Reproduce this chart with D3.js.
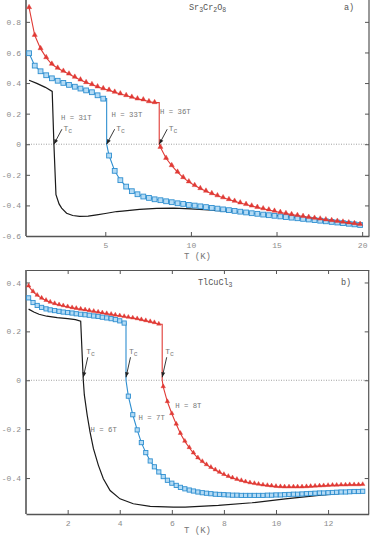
<!DOCTYPE html>
<html><head><meta charset="utf-8">
<script src="https://cdn.jsdelivr.net/npm/d3@7"></script>
<style>html,body{margin:0;padding:0;background:#fff;}svg{display:block;}</style>
</head><body>
<svg id="chart" width="375" height="535"></svg>
<script>
// ---------------- DATA ----------------
// Panel a) Sr3Cr2O8 : temperature grid (K) shared by H = 33T and H = 36T
const tA = [0.55,0.88,1.22,1.55,1.88,2.22,2.55,2.88,3.22,3.55,3.88,4.22,4.55,4.88,5.22,5.55,5.88,6.22,6.55,6.88,7.22,7.55,7.88,8.22,8.55,8.88,9.22,9.55,9.88,10.22,10.55,10.88,11.22,11.55,11.88,12.22,12.55,12.88,13.22,13.55,13.88,14.22,14.55,14.88,15.22,15.55,15.88,16.22,16.55,16.88,17.22,17.55,17.88,18.22,18.55,18.88,19.22,19.55,19.88];
const redA = [0.893,0.712,0.625,0.566,0.523,0.497,0.477,0.459,0.438,0.420,0.403,0.390,0.375,0.363,0.353,0.340,0.329,0.318,0.307,0.296,0.290,0.278,0.272,
  -0.020,-0.092,-0.140,-0.183,-0.218,-0.246,-0.270,-0.290,-0.307,-0.323,-0.337,-0.350,-0.362,-0.373,-0.384,-0.394,-0.404,-0.413,-0.422,-0.430,-0.438,-0.446,-0.453,-0.460,-0.466,-0.472,-0.478,-0.484,-0.489,-0.494,-0.499,-0.504,-0.509,-0.514,-0.519,-0.524];
const blueA = [0.595,0.514,0.477,0.451,0.431,0.415,0.401,0.388,0.376,0.364,0.352,0.340,0.320,0.298,
  -0.074,-0.174,-0.235,-0.277,-0.307,-0.327,-0.342,-0.351,-0.360,-0.366,-0.373,-0.379,-0.386,-0.390,-0.397,-0.401,-0.406,-0.411,-0.416,-0.421,-0.426,-0.431,-0.436,-0.441,-0.446,-0.451,-0.455,-0.460,-0.464,-0.468,-0.472,-0.476,-0.480,-0.484,-0.488,-0.492,-0.496,-0.500,-0.504,-0.508,-0.512,-0.516,-0.520,-0.524,-0.528];
// H = 31T (solid line)
const blackA_T = [0.55,1.0,1.5,1.9,2.0,2.12,2.3,2.45,2.74,3.1,3.5,4.0,4.5,5.0,5.67,6.0,7.0,8.0,9.0,10.0,11.0,12.0,13.0,14.0,15.0,16.0,17.0,18.0,19.0,20.0];
const blackA_M = [0.418,0.398,0.372,0.345,0.0,-0.33,-0.39,-0.418,-0.451,-0.466,-0.472,-0.470,-0.462,-0.453,-0.440,-0.437,-0.426,-0.420,-0.418,-0.423,-0.430,-0.438,-0.446,-0.455,-0.465,-0.476,-0.487,-0.499,-0.512,-0.530];
const tcA = [2.0, 5.08, 8.15];          // critical temperatures: 31T, 33T, 36T
const fieldsA = ["H = 31T", "H = 33T", "H = 36T"];

// Panel b) TlCuCl3 : temperature grid (K)
const tB = [0.5,0.67,0.83,1.0,1.17,1.33,1.5,1.67,1.83,2.0,2.17,2.33,2.5,2.67,2.83,3.0,3.17,3.33,3.5,3.67,3.83,4.0,4.17,4.33,4.5,4.67,4.83,5.0,5.17,5.33,5.5,5.67,5.83,6.0,6.17,6.33,6.5,6.67,6.83,7.0,7.17,7.33,7.5,7.67,7.83,8.0,8.17,8.33,8.5,8.67,8.83,9.0,9.17,9.33,9.5,9.67,9.83,10.0,10.17,10.33,10.5,10.67,10.83,11.0,11.17,11.33,11.5,11.67,11.83,12.0,12.17,12.33,12.5,12.67,12.83,13.0,13.17,13.33];
const redB = [0.385,0.362,0.347,0.335,0.326,0.319,0.313,0.308,0.304,0.300,0.296,0.293,0.290,0.287,0.284,0.281,0.278,0.275,0.272,0.269,0.266,0.263,0.260,0.257,0.254,0.251,0.247,0.243,0.239,0.235,0.229,
  -0.027,-0.088,-0.137,-0.180,-0.218,-0.250,-0.276,-0.298,-0.318,-0.333,-0.346,-0.357,-0.367,-0.377,-0.386,-0.394,-0.400,-0.406,-0.411,-0.416,-0.420,-0.423,-0.426,-0.429,-0.431,-0.433,-0.435,-0.436,-0.437,-0.437,-0.437,-0.437,-0.437,-0.436,-0.435,-0.434,-0.433,-0.432,-0.431,-0.430,-0.430,-0.429,-0.429,-0.428,-0.428,-0.428,-0.427];
const blueB = [0.337,0.318,0.306,0.298,0.292,0.288,0.285,0.282,0.279,0.277,0.275,0.272,0.270,0.268,0.266,0.263,0.261,0.258,0.255,0.252,0.248,0.243,0.234,
  -0.065,-0.141,-0.203,-0.255,-0.296,-0.330,-0.354,-0.375,-0.394,-0.409,-0.421,-0.430,-0.438,-0.444,-0.449,-0.453,-0.457,-0.460,-0.462,-0.464,-0.466,-0.467,-0.468,-0.469,-0.470,-0.470,-0.471,-0.471,-0.471,-0.471,-0.471,-0.471,-0.470,-0.470,-0.469,-0.469,-0.468,-0.467,-0.466,-0.466,-0.465,-0.464,-0.463,-0.462,-0.461,-0.461,-0.460,-0.459,-0.458,-0.457,-0.457,-0.456,-0.455,-0.455,-0.454];
const blackB_T = [0.5,0.7,0.9,1.2,1.6,2.0,2.3,2.5,2.6,2.64,2.75,2.86,2.99,3.18,3.37,3.63,4.01,4.52,5.17,6.06,6.51,7.79,9.08,10.36,11.64,13.3];
const blackB_M = [0.291,0.279,0.270,0.262,0.256,0.252,0.248,0.242,0.0,-0.06,-0.143,-0.212,-0.28,-0.348,-0.403,-0.451,-0.485,-0.505,-0.516,-0.519,-0.519,-0.512,-0.501,-0.485,-0.471,-0.455];
const tcB = [2.6, 4.24, 5.63];           // 6T, 7T, 8T
const fieldsB = ["H = 6T", "H = 7T", "H = 8T"];

// tick values and labels
const xTicksA = [5, 10, 15, 20];
const xTickLabelsA = ["5", "10", "15", "20"];
const yTicksA = [-0.6, -0.4, -0.2, 0, 0.2, 0.4, 0.6, 0.8];
const yTickLabelsA = ["-0.6", "-0.4", "-0.2", "0", "0.2", "0.4", "0.6", "0.8"];
const xTicksB = [2, 4, 6, 8, 10, 12];
const xTickLabelsB = ["2", "4", "6", "8", "10", "12"];
const yTicksB = [-0.4, -0.2, 0, 0.2, 0.4];
const yTickLabelsB = ["-0.4", "-0.2", "0", "0.2", "0.4"];

// annotation anchors (data coordinates) for field labels
const fieldLabelPosA = [[2.41, 0.159], [5.37, 0.178], [8.2, 0.198]];
const fieldLabelPosB = [[2.88, -0.213], [4.72, -0.164], [6.13, -0.115]];

// ---------------- DRAWING ----------------
const FONT = "'Liberation Mono', 'DejaVu Sans Mono', monospace";
const RED = "#e03a35", BLUE = "#2f8fd0", BLUEFILL = "#b4dbf5", BLACK = "#1a1a1a";
const svg = d3.select("#chart");

function panel(cfg) {
  const g = svg.append("g");
  const x = d3.scaleLinear().domain(cfg.xDomain).range([cfg.left, cfg.right]);
  const y = d3.scaleLinear().domain(cfg.yDomain).range([cfg.bottom, cfg.top]);

  // zero reference line
  g.append("line").attr("x1", cfg.left).attr("x2", cfg.right)
    .attr("y1", y(0)).attr("y2", y(0))
    .attr("stroke", "#888").attr("stroke-width", 0.8).attr("stroke-dasharray", "1,1.5");

  // axes
  const styleAxis = (sel, w, labels) => {
    sel.select(".domain").attr("stroke", "#555").attr("stroke-width", w);
    sel.selectAll(".tick line").attr("stroke", "#555").attr("stroke-width", 1);
    sel.selectAll(".tick text").attr("fill", "#8c8c8c").style("font-family", FONT).style("font-size", "8px");
    if (!labels) sel.selectAll(".tick text").remove();
  };
  const xl = cfg.xTickLabels, yl = cfg.yTickLabels;
  const yFrame = d3.scaleLinear().domain([0, 1]).range([cfg.bottom, cfg.frameTop]);
  g.append("g").attr("transform", `translate(0,${cfg.bottom})`)
    .call(d3.axisBottom(x).tickValues(cfg.xTicks).tickSizeInner(-4).tickSizeOuter(0).tickPadding(6)
      .tickFormat((d, i) => xl[i])).call(s => styleAxis(s, 1.6, true));
  const left = g.append("g").attr("transform", `translate(${cfg.left},0)`)
    .call(d3.axisLeft(y).tickValues(cfg.yTicks).tickSizeInner(-4).tickSizeOuter(0).tickPadding(5)
      .tickFormat((d, i) => yl[i])).call(s => styleAxis(s, 1.6, true));
  left.select(".domain").attr("d", `M0,${cfg.bottom}V${cfg.frameTop}`);
  const right = g.append("g").attr("transform", `translate(${cfg.right},0)`)
    .call(d3.axisRight(y).tickValues(cfg.yTicks).tickSizeInner(-4).tickSizeOuter(0))
    .call(s => styleAxis(s, 1.2, false));
  right.select(".domain").attr("d", `M0,${cfg.bottom}V${cfg.frameTop}`);
  g.append("g").attr("transform", `translate(0,${cfg.frameTop})`)
    .call(d3.axisTop(x).tickValues(cfg.xTicks).tickSizeInner(-4).tickSizeOuter(0))
    .call(s => styleAxis(s, 1.2, false));

  const line = d3.line().x(d => x(d[0])).y(d => y(d[1]));

  // black curve (no markers)
  const bpts = cfg.blackT.map((t, i) => [t, cfg.blackM[i]]);
  g.append("path").attr("d", line(bpts)).attr("fill", "none").attr("stroke", BLACK).attr("stroke-width", 1.2);

  // marker series with a vertical jump at Tc
  function series(vals, tc, color, kind) {
    const pts = cfg.t.map((t, i) => [t, vals[i]]);
    const upper = pts.filter(p => p[0] < tc), lower = pts.filter(p => p[0] > tc);
    const path = upper.concat([[tc, upper[upper.length - 1][1]], [tc, 0]], lower);
    g.append("path").attr("d", line(path)).attr("fill", "none").attr("stroke", color).attr("stroke-width", 1.1);
    const s = cfg.markerSize;
    if (kind === "square") {
      g.selectAll(null).data(pts).join("rect")
        .attr("x", d => x(d[0]) - s / 2).attr("y", d => y(d[1]) - s / 2)
        .attr("width", s).attr("height", s)
        .attr("fill", BLUEFILL).attr("stroke", color).attr("stroke-width", 0.9);
    } else {
      const sym = d3.symbol().type(d3.symbolTriangle).size(s * s * 0.5);
      g.selectAll(null).data(pts).join("path")
        .attr("d", sym).attr("transform", d => `translate(${x(d[0])},${y(d[1]) - 0.4})`)
        .attr("fill", color).attr("stroke", color).attr("stroke-width", 0.4);
    }
  }
  series(cfg.blue, cfg.tc[1], BLUE, "square");
  series(cfg.red, cfg.tc[2], RED, "triangle");

  // Tc arrows + labels
  cfg.tc.forEach(tc => {
    const tx = x(tc), ty = y(0) + cfg.arrow.tipDy;
    const sx = tx + cfg.arrow.dx, sy = ty + cfg.arrow.dy;
    g.append("line").attr("x1", sx).attr("y1", sy).attr("x2", tx).attr("y2", ty)
      .attr("stroke", "#222").attr("stroke-width", 0.9);
    const ang = Math.atan2(ty - sy, tx - sx);
    const L = 5, W = 2;
    const bx = tx - L * Math.cos(ang), by = ty - L * Math.sin(ang);
    const px = -Math.sin(ang) * W, py = Math.cos(ang) * W;
    g.append("path").attr("d", `M${tx},${ty}L${bx + px},${by + py}L${bx - px},${by - py}Z`).attr("fill", "#222");
    const t = g.append("text").attr("x", tx + cfg.arrow.lx).attr("y", ty + cfg.arrow.ly)
      .attr("fill", "#777").style("font-family", FONT).style("font-size", "8px");
    t.append("tspan").text("T");
    t.append("tspan").attr("dy", 2).style("font-size", "6.5px").text("c");
  });

  // field labels
  cfg.fields.forEach((f, i) => {
    g.append("text").attr("x", x(cfg.fieldPos[i][0])).attr("y", y(cfg.fieldPos[i][1]))
      .attr("fill", "#777").style("font-family", FONT).style("font-size", "7.3px").text(f);
  });

  // titles
  const title = g.append("text").attr("x", cfg.titleX).attr("y", cfg.titleY)
    .attr("fill", "#555").style("font-family", FONT).style("font-size", "8.5px");
  cfg.title.forEach(p => {
    if (p.sub) title.append("tspan").attr("dy", 2).style("font-size", "6.5px").text(p.t);
    else title.append("tspan").attr("dy", p.after ? -2 : 0).text(p.t);
  });
  g.append("text").attr("x", cfg.tagX).attr("y", cfg.titleY).attr("fill", "#555")
    .style("font-family", FONT).style("font-size", "8.5px").text(cfg.tag);

  // x-axis title
  g.append("text").attr("x", cfg.xLabelX).attr("y", cfg.xLabelY).attr("fill", "#777")
    .style("font-family", FONT).style("font-size", "9px").text("T (K)");
}

panel({
  xDomain: [0.37, 20.4], yDomain: [-0.6, 0.943],
  left: 26, right: 369, top: 0, frameTop: -6, bottom: 236,
  xTicks: xTicksA, xTickLabels: xTickLabelsA, yTicks: yTicksA, yTickLabels: yTickLabelsA,
  t: tA, red: redA, blue: blueA, blackT: blackA_T, blackM: blackA_M, tc: tcA,
  fields: fieldsA, fieldPos: fieldLabelPosA, markerSize: 4.8,
  arrow: { tipDy: 0, dx: 8, dy: -15, lx: 9.5, ly: -13.5 },
  title: [{t: "Sr"}, {t: "3", sub: true}, {t: "Cr", after: true}, {t: "2", sub: true}, {t: "O", after: true}, {t: "8", sub: true}],
  titleX: 189, titleY: 10, tag: "a)", tagX: 344,
  xLabelX: 184, xLabelY: 259
});

panel({
  xDomain: [0.4, 13.56], yDomain: [-0.547, 0.451],
  left: 26, right: 368.7, top: 270, frameTop: 270, bottom: 514,
  xTicks: xTicksB, xTickLabels: xTickLabelsB, yTicks: yTicksB, yTickLabels: yTickLabelsB,
  t: tB, red: redB, blue: blueB, blackT: blackB_T, blackM: blackB_M, tc: tcB,
  fields: fieldsB, fieldPos: fieldLabelPosB, markerSize: 4.2,
  arrow: { tipDy: -3, dx: 4.5, dy: -20, lx: 3, ly: -23.5 },
  title: [{t: "TlCuCl"}, {t: "3", sub: true}],
  titleX: 198, titleY: 285, tag: "b)", tagX: 341,
  xLabelX: 184, xLabelY: 533
});
</script>
</body></html>
